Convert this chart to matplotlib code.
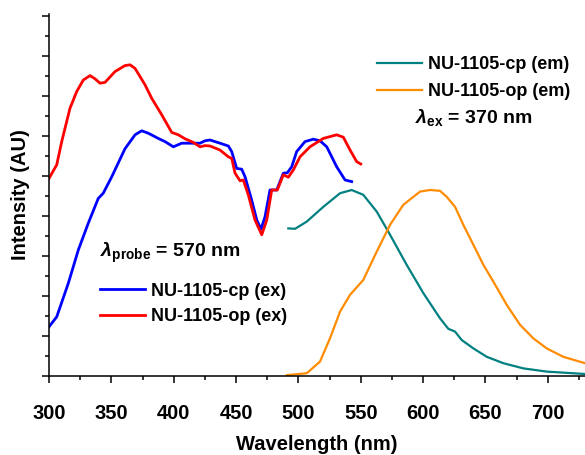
import matplotlib
matplotlib.use("Agg")
from matplotlib import pyplot as plt
from matplotlib.ticker import MultipleLocator

plt.rcParams['font.family'] = ['Liberation Sans', 'DejaVu Sans']
plt.rcParams['font.weight'] = 'bold'
plt.rcParams['mathtext.fontset'] = 'custom'
plt.rcParams['mathtext.rm'] = 'Liberation Sans:bold'
plt.rcParams['mathtext.it'] = 'Liberation Sans:italic:bold'
plt.rcParams['mathtext.bf'] = 'Liberation Sans:bold'

# excitation spectra (probe 570 nm)
wl_cp_ex = [300, 306.2, 315.5, 323.5, 331.5, 339.5, 343.5, 350.3, 360.9, 369.0, 374.3,
            379.6, 387.6, 393.0, 399.7, 406.4, 414.4, 421.1, 425.1, 429.1, 437.1, 443.8,
            446.5, 450.5, 454.5, 457.2, 462.5, 466.6, 470.0, 473.2, 477.2, 482.6, 487.9,
            491.1, 494.6, 498.6, 505.3, 511.9, 517.3, 522.7, 530.7, 537.4, 542.7]
int_cp_ex = [1.23, 1.48, 2.32, 3.15, 3.82, 4.44, 4.57, 4.98, 5.68, 6.03, 6.13, 6.07, 5.94,
             5.86, 5.73, 5.82, 5.82, 5.82, 5.88, 5.90, 5.82, 5.75, 5.61, 5.19, 5.17, 4.98,
             4.40, 3.90, 3.67, 3.98, 4.65, 4.65, 5.07, 5.08, 5.23, 5.61, 5.86, 5.92, 5.88,
             5.73, 5.23, 4.90, 4.86]

wl_op_ex = [300, 306.2, 310.2, 316.8, 322.2, 327.5, 332.9, 336.9, 340.9, 344.9, 352.9,
            360.9, 365.0, 369.0, 377.0, 382.4, 390.4, 398.4, 403.7, 409.1, 415.7, 421.1,
            425.1, 429.1, 437.1, 443.8, 446.5, 449.2, 453.2, 455.8, 459.8, 465.2, 470.6,
            474.6, 478.6, 483.1, 487.9, 491.9, 495.9, 501.3, 509.3, 520.0, 530.7, 536.0,
            541.4, 546.7, 550.0]
int_op_ex = [4.94, 5.28, 5.86, 6.69, 7.11, 7.40, 7.51, 7.43, 7.32, 7.34, 7.61, 7.76, 7.78,
             7.69, 7.28, 6.94, 6.53, 6.09, 6.03, 5.93, 5.84, 5.73, 5.76, 5.75, 5.65, 5.48,
             5.44, 5.07, 4.88, 4.90, 4.53, 3.90, 3.53, 3.90, 4.65, 4.65, 5.03, 4.97, 5.15,
             5.48, 5.73, 5.94, 6.03, 5.97, 5.65, 5.36, 5.30]

# emission spectra (excitation 370 nm)
wl_cp_em = [491.9, 497.3, 506.7, 520.0, 533.4, 542.7, 552.0, 562.8, 573.5, 586.8, 600.2,
            613.6, 620.2, 625.6, 630.9, 640.3, 651.0, 664.3, 680.4, 699.1, 729.8]
int_cp_em = [3.69, 3.68, 3.86, 4.23, 4.57, 4.65, 4.53, 4.11, 3.53, 2.78, 2.07, 1.44, 1.18,
             1.11, 0.90, 0.69, 0.48, 0.32, 0.19, 0.11, 0.05]

wl_op_em = [490.6, 506.7, 517.3, 525.3, 533.4, 541.4, 552.0, 562.8, 573.5, 584.1, 597.5,
            605.5, 613.5, 618.9, 625.6, 632.2, 640.3, 648.3, 656.3, 667.0, 677.7, 688.4,
            699.1, 712.4, 729.8]
int_op_em = [0.02, 0.07, 0.36, 0.94, 1.61, 2.03, 2.40, 3.11, 3.78, 4.28, 4.61, 4.65, 4.63,
             4.48, 4.23, 3.78, 3.28, 2.78, 2.36, 1.78, 1.28, 0.94, 0.69, 0.48, 0.32]

fig = plt.figure(figsize=(5.85, 4.55), dpi=100)
ax = fig.add_axes([49 / 585, 79 / 455, 536 / 585, 362 / 455])

l1, = ax.plot(wl_cp_ex, int_cp_ex, color='#0000ff', lw=2.0, label='NU-1105-cp (ex)')
l2, = ax.plot(wl_op_ex, int_op_ex, color='#ff0000', lw=2.0, label='NU-1105-op (ex)')
l3, = ax.plot(wl_cp_em, int_cp_em, color='#008080', lw=1.6, label='NU-1105-cp (em)')
l4, = ax.plot(wl_op_em, int_op_em, color='#ff8c00', lw=1.6, label='NU-1105-op (em)')

ax.set_xlim(300, 729.8)
ax.set_ylim(0, 9.05)
ax.spines['top'].set_visible(False)
ax.spines['right'].set_visible(False)
for s in ('left', 'bottom'):
    ax.spines[s].set_linewidth(1.1)

ax.xaxis.set_major_locator(MultipleLocator(50))
ax.xaxis.set_minor_locator(MultipleLocator(25))
ax.yaxis.set_major_locator(MultipleLocator(1))
ax.yaxis.set_minor_locator(MultipleLocator(0.5))
ax.tick_params(which='major', direction='out', length=5, width=1.1, labelsize=14.5, pad=15)
ax.tick_params(which='minor', direction='out', length=3, width=1.1)
ax.tick_params(axis='y', labelleft=False)

ax.set_xlabel('Wavelength (nm)', fontsize=14.5, fontweight='bold', labelpad=9)
ax.set_ylabel('Intensity (AU)', fontsize=14.5, fontweight='bold', labelpad=7)

leg1 = ax.legend(handles=[l1, l2], loc='upper left', bbox_to_anchor=(0.095, 0.258),
                 frameon=False, fontsize=13, handlelength=2.5, handletextpad=0.33,
                 borderpad=0, borderaxespad=0, labelspacing=0.47)
ax.add_artist(leg1)
ax.legend(handles=[l3, l4], loc='upper left', bbox_to_anchor=(0.612, 0.883),
          frameon=False, fontsize=13, handlelength=2.5, handletextpad=0.33,
          borderpad=0, borderaxespad=0, labelspacing=0.53)

ax.text(341, 2.97, r'$\lambda_{\mathrm{probe}}$ = 570 nm', fontsize=14, fontweight='bold',
        va='baseline', ha='left')
ax.text(593.5, 6.32, r'$\lambda_{\mathrm{ex}}$ = 370 nm', fontsize=14, fontweight='bold',
        va='baseline', ha='left')

fig.savefig('out.png', dpi=100)
